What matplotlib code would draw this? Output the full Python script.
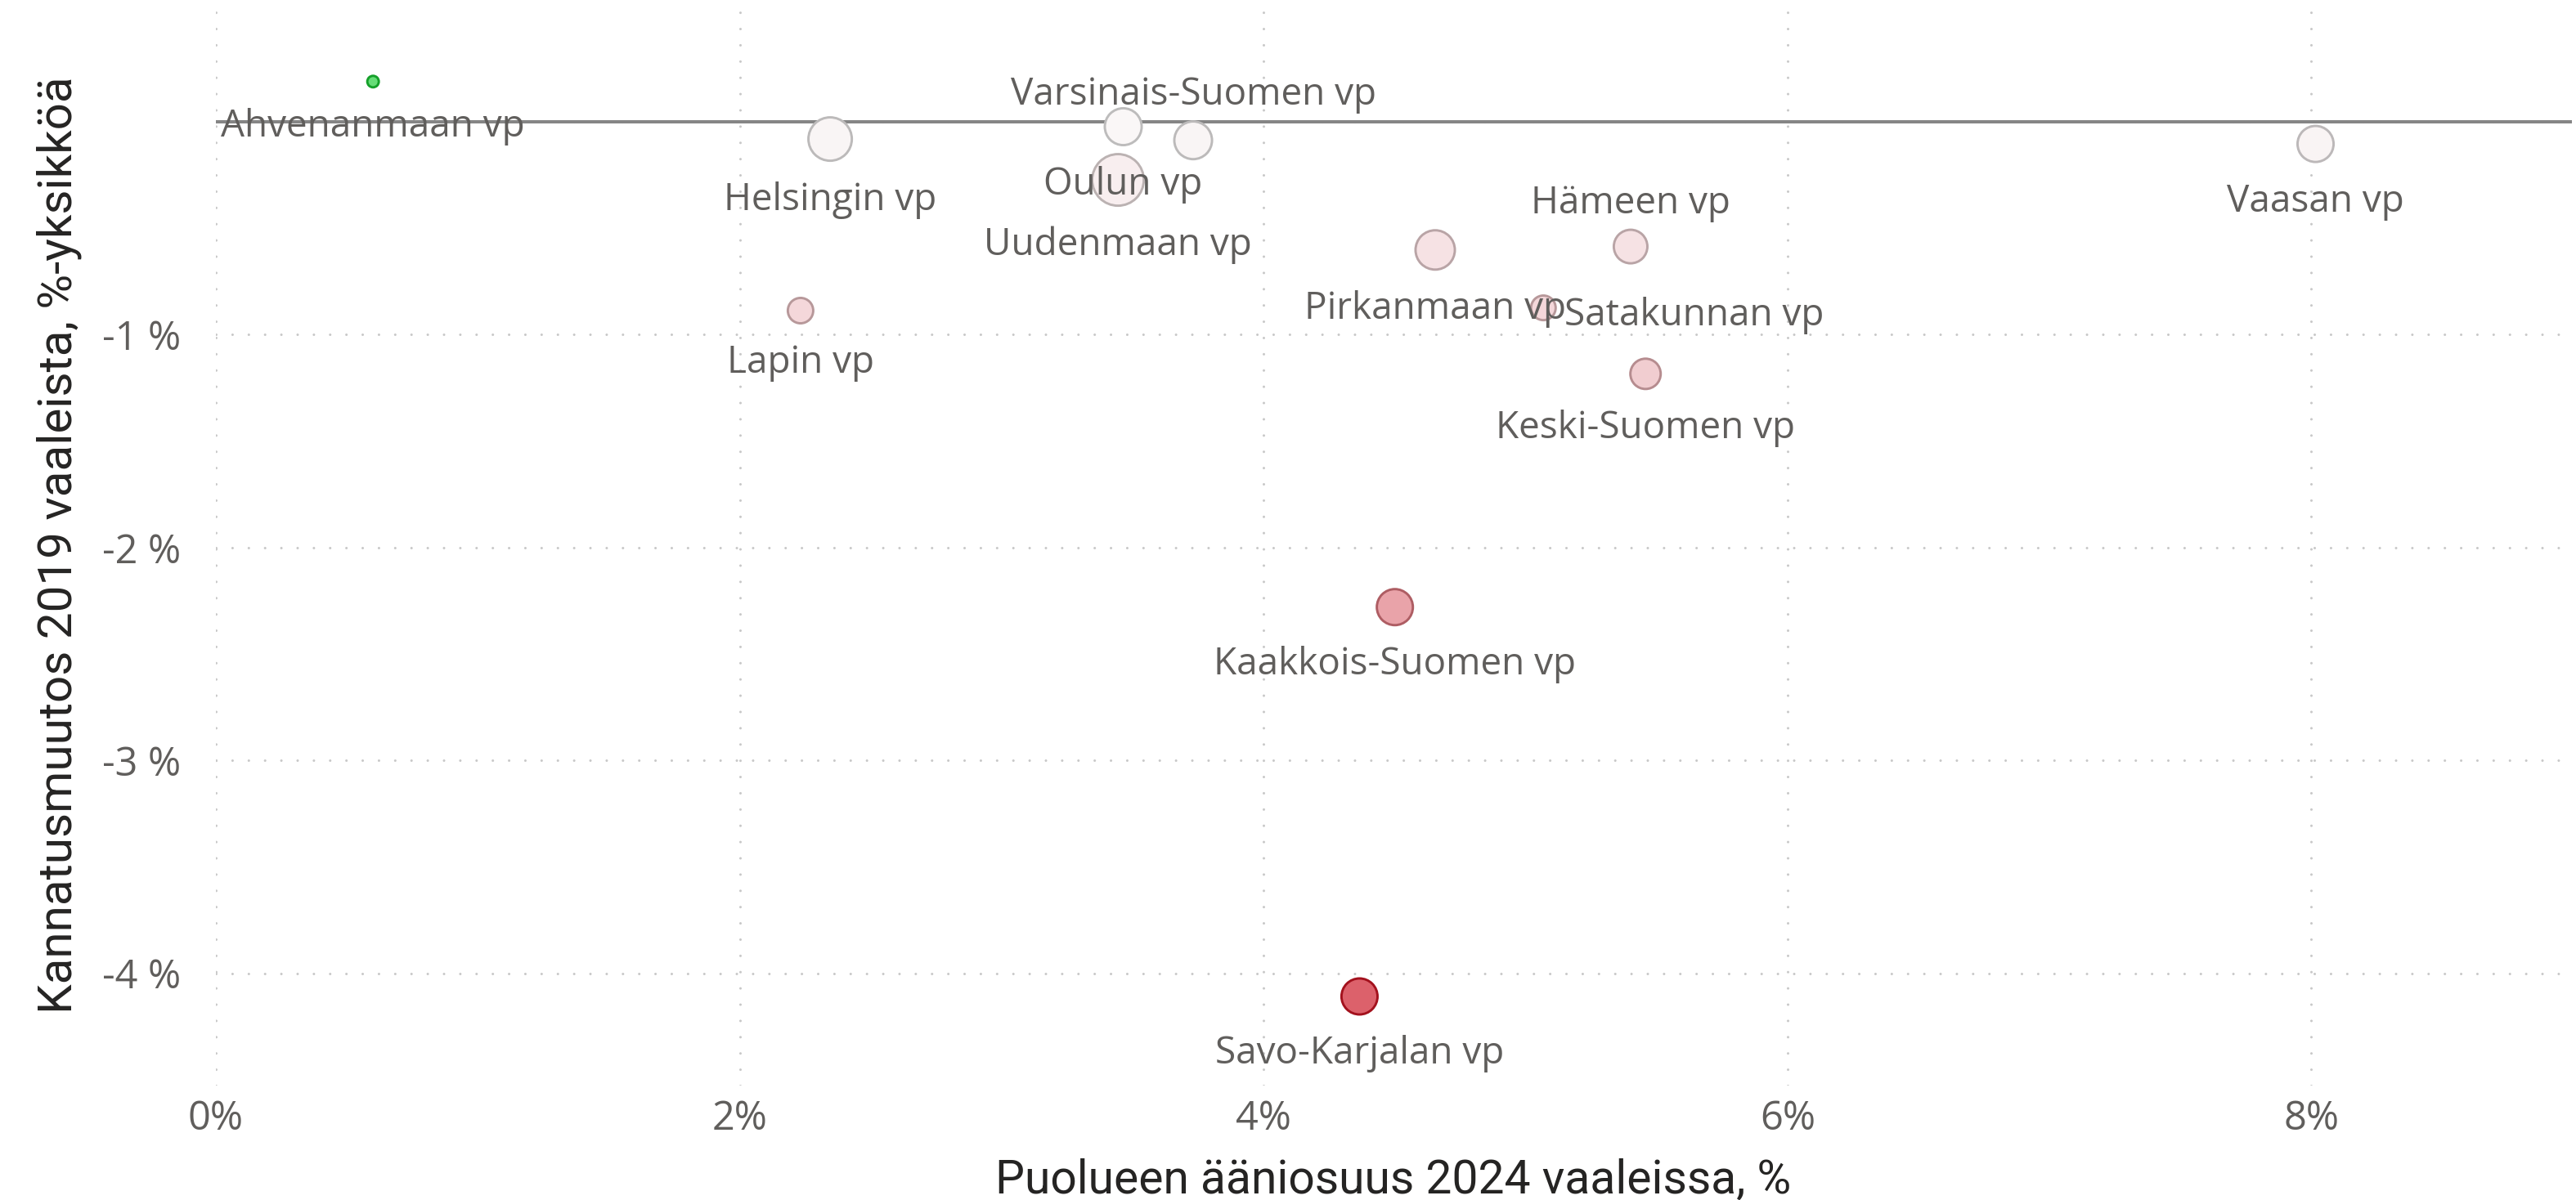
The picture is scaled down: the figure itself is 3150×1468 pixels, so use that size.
import numpy as np
import matplotlib.pyplot as plt
from matplotlib.colors import LinearSegmentedColormap, TwoSlopeNorm

# vaalipiirit: äänisuus 2024 (%), kannatusmuutos 2019 -> 2024 (%-yks.), kuplan koko (suhteellinen)
vaalipiirit = ["Ahvenanmaan vp", "Helsingin vp", "Lapin vp", "Oulun vp",
               "Varsinais-Suomen vp", "Uudenmaan vp", "Pirkanmaan vp", "Hämeen vp",
               "Satakunnan vp", "Keski-Suomen vp", "Kaakkois-Suomen vp",
               "Savo-Karjalan vp", "Vaasan vp"]
osuus_2024 = [0.60, 2.345, 2.232, 3.464, 3.731, 3.444, 4.655, 5.401, 5.068, 5.458, 4.501, 4.366, 8.016]
muutos = [0.189, -0.081, -0.887, -0.023, -0.087, -0.273, -0.602, -0.586, -0.874, -1.184, -2.280, -4.109, -0.104]
koko = [6.6, 72, 26.5, 52.9, 55.1, 100, 59.7, 44.4, 25, 36.7, 50.7, 50.7, 50.7]

x_ticks = [0, 2, 4, 6, 8]
y_ticks = [-4, -3, -2, -1, 0]

# nimien paikka kuplaan nähden
paikka = {"Varsinais-Suomen vp": "yla", "Hämeen vp": "yla", "Satakunnan vp": "oikea"}

DPI = 100
PX = 72 / DPI  # pikseli pisteinä

fig = plt.figure(figsize=(31.5, 14.68), dpi=DPI)
ax = fig.add_axes([264 / 3150, 1 - 1328 / 1468, 2881 / 3150, 1318 / 1468])

x = np.array(osuus_2024)
y = np.array(muutos)

# väriskaala: punainen (lasku) - valkoinen - vihreä (nousu)
norm = TwoSlopeNorm(vmin=y.min(), vcenter=0, vmax=y.max())
tayte = LinearSegmentedColormap.from_list("tayte", ["#DC616B", "#FAF8F8", "#66DD77"])
reuna = LinearSegmentedColormap.from_list("reuna", ["#A3111D", "#BDBDBD", "#15A02A"])

halk_px = 66 * np.sqrt(np.array(koko) / 100)
lw = 2.1
s = (halk_px * PX - lw) ** 2

ax.scatter(x, y, s=s, c=tayte(norm(y)), edgecolors=reuna(norm(y)), linewidths=lw, zorder=4)

ax.axhline(0, color="#858585", lw=2.9, zorder=3)

for nimi, xi, yi, d in zip(vaalipiirit, x, y, halk_px):
    r = d / 2
    p = paikka.get(nimi, "ala")
    if p == "ala":
        off, ha = (0, -(r + 59) * PX), "center"
    elif p == "yla":
        off, ha = (0, (r + 19) * PX), "center"
    else:
        off, ha = ((r + 9) * PX, -21 * PX), "left"
    ax.annotate(nimi, (xi, yi), xytext=off, textcoords="offset points",
                ha=ha, va="baseline", fontsize=33, color="#605E5C",
                family="Open Sans", zorder=5)

ax.set_xlim(0, 2881 / 320.3)
ax.set_ylim(-(1328 - 149) / 260.4, (149 - 10) / 260.4)

ax.set_xticks(x_ticks)
ax.set_xticklabels([f"{t}%" for t in x_ticks])
ax.set_yticks(y_ticks)
ax.set_yticklabels([f"{t} %" if t != 0 else "" for t in y_ticks])
ax.tick_params(length=0, labelsize=35, labelcolor="#605E5C")
ax.tick_params(axis="x", pad=12)
ax.tick_params(axis="y", pad=31)
for lab in ax.get_xticklabels() + ax.get_yticklabels():
    lab.set_family("Open Sans")

ax.grid(True, color="#C8C8C8", lw=2.2, linestyle=(0, (0.01, 6.5)), dash_capstyle="round")
ax.set_axisbelow(True)
for sp in ax.spines.values():
    sp.set_visible(False)

fig.text(1704 / 3150, 8 / 1468, "Puolueen ääniosuus 2024 vaaleissa, %",
         ha="center", va="baseline", fontsize=41, color="#252423", family="Roboto")
fig.text(88 / 3150, 1 - 667 / 1468, "Kannatusmuutos 2019 vaaleista, %-yksikköä",
         ha="center", va="baseline", rotation=90, rotation_mode="anchor",
         fontsize=42, color="#252423", family="Roboto")

fig.savefig("out.png", dpi=DPI)
